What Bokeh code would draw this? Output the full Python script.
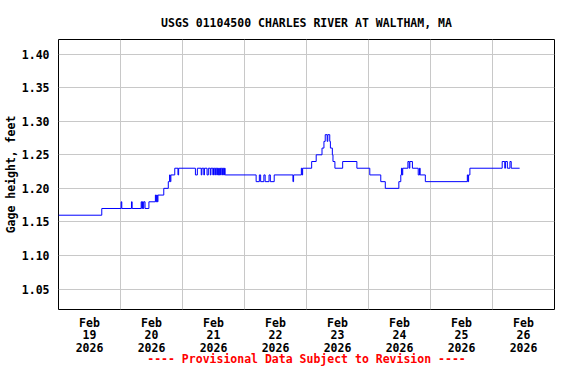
import pandas as pd
from bokeh.plotting import figure
from bokeh.models import FixedTicker, Range1d, PrintfTickFormatter, ColumnDataSource
from bokeh.embed import file_html
from bokeh.resources import INLINE

# ---- data (15-minute gage height, change points) ----
times = [
    "2026-02-19 00:00", "2026-02-19 16:45", "2026-02-20 00:15", "2026-02-20 00:30",
    "2026-02-20 04:15", "2026-02-20 04:30", "2026-02-20 08:00", "2026-02-20 08:15",
    "2026-02-20 08:30", "2026-02-20 08:45", "2026-02-20 09:00", "2026-02-20 09:30",
    "2026-02-20 11:00", "2026-02-20 13:30", "2026-02-20 13:45", "2026-02-20 14:00",
    "2026-02-20 14:15", "2026-02-20 14:30", "2026-02-20 16:45", "2026-02-20 18:30",
    "2026-02-20 19:00", "2026-02-20 19:15", "2026-02-20 19:30", "2026-02-20 21:00",
    "2026-02-20 22:15", "2026-02-20 22:30", "2026-02-21 05:00", "2026-02-21 05:45",
    "2026-02-21 07:15", "2026-02-21 07:30", "2026-02-21 08:15", "2026-02-21 08:30",
    "2026-02-21 09:30", "2026-02-21 10:00", "2026-02-21 10:45", "2026-02-21 11:00",
    "2026-02-21 11:45", "2026-02-21 12:00", "2026-02-21 12:30", "2026-02-21 12:45",
    "2026-02-21 13:15", "2026-02-21 13:30", "2026-02-21 13:45", "2026-02-21 14:00",
    "2026-02-21 14:15", "2026-02-21 14:30", "2026-02-21 14:45", "2026-02-21 15:00",
    "2026-02-21 15:30", "2026-02-21 15:45", "2026-02-21 16:00", "2026-02-21 16:15",
    "2026-02-21 16:30", "2026-02-22 04:30", "2026-02-22 05:45", "2026-02-22 06:15",
    "2026-02-22 07:30", "2026-02-22 08:00", "2026-02-22 09:30", "2026-02-22 10:00",
    "2026-02-22 11:30", "2026-02-22 18:45", "2026-02-22 19:00", "2026-02-22 22:00",
    "2026-02-22 22:15", "2026-02-22 22:30", "2026-02-23 02:00", "2026-02-23 03:45",
    "2026-02-23 06:00", "2026-02-23 06:45", "2026-02-23 07:15", "2026-02-23 08:00",
    "2026-02-23 08:15", "2026-02-23 09:00", "2026-02-23 09:15", "2026-02-23 10:00",
    "2026-02-23 10:15", "2026-02-23 11:00", "2026-02-23 14:00", "2026-02-23 19:30",
    "2026-02-24 00:30", "2026-02-24 04:45", "2026-02-24 06:30", "2026-02-24 11:45",
    "2026-02-24 12:30", "2026-02-24 12:45", "2026-02-24 13:00", "2026-02-24 13:15",
    "2026-02-24 15:15", "2026-02-24 15:45", "2026-02-24 16:00", "2026-02-24 17:00",
    "2026-02-24 19:15", "2026-02-24 19:45", "2026-02-24 20:00", "2026-02-24 22:00",
    "2026-02-25 14:15", "2026-02-25 14:30", "2026-02-25 14:45", "2026-02-25 15:15",
    "2026-02-26 03:45", "2026-02-26 04:45", "2026-02-26 05:00", "2026-02-26 05:45",
    "2026-02-26 06:45", "2026-02-26 07:15", "2026-02-26 10:30",
]
gage_ft = [
    1.16, 1.17, 1.18, 1.17,
    1.18, 1.17, 1.18, 1.17,
    1.18, 1.17, 1.18, 1.17,
    1.18, 1.19, 1.18, 1.19,
    1.18, 1.19, 1.20, 1.21,
    1.22, 1.21, 1.22, 1.23,
    1.22, 1.23, 1.22, 1.23,
    1.22, 1.23, 1.22, 1.23,
    1.22, 1.23, 1.22, 1.23,
    1.22, 1.23, 1.22, 1.23,
    1.22, 1.23, 1.22, 1.23,
    1.22, 1.23, 1.22, 1.23,
    1.22, 1.23, 1.22, 1.23,
    1.22, 1.21, 1.22, 1.21,
    1.22, 1.21, 1.22, 1.21,
    1.22, 1.21, 1.22, 1.23,
    1.22, 1.23, 1.24, 1.25,
    1.26, 1.27, 1.28, 1.27,
    1.28, 1.27, 1.26, 1.25,
    1.24, 1.23, 1.24, 1.23,
    1.22, 1.21, 1.20, 1.21,
    1.22, 1.23, 1.22, 1.23,
    1.24, 1.23, 1.24, 1.23,
    1.22, 1.23, 1.22, 1.21,
    1.22, 1.21, 1.22, 1.23,
    1.24, 1.23, 1.24, 1.23,
    1.24, 1.23, 1.23,
]

label_days = ["2026-02-19", "2026-02-20", "2026-02-21", "2026-02-22",
              "2026-02-23", "2026-02-24", "2026-02-25", "2026-02-26"]
day_labels = ["Feb\n19\n2026", "Feb\n20\n2026", "Feb\n21\n2026", "Feb\n22\n2026",
              "Feb\n23\n2026", "Feb\n24\n2026", "Feb\n25\n2026", "Feb\n26\n2026"]
y_ticks = [1.05, 1.10, 1.15, 1.20, 1.25, 1.30, 1.35, 1.40]

title_text = "USGS 01104500 CHARLES RIVER AT WALTHAM, MA"
y_title = "Gage height, feet"
footer = "---- Provisional Data Subject to Revision ----"

FONT = "DejaVu Sans Mono"
FS = "11.5px"

def ms(ts):
    return int(pd.Timestamp(ts).value // 10**6)

x_start = pd.Timestamp("2026-02-19 00:00")
x_end = pd.Timestamp("2026-02-27 00:00")

src = ColumnDataSource(dict(t=pd.to_datetime(times), h=gage_ft))

p = figure(
    width=560, height=368, x_axis_type="datetime",
    x_range=Range1d(x_start, x_end), y_range=Range1d(1.0195, 1.4218),
    output_backend="svg", toolbar_location=None,
    min_border_left=58, min_border_right=6, min_border_top=39, min_border_bottom=52,
    title=title_text,
)
p.background_fill_color = "white"
p.border_fill_color = "white"
p.outline_line_color = "black"
p.outline_line_width = 1
p.outline_line_alpha = 1.0

p.title.align = "center"
p.title.text_font = FONT
p.title.text_font_size = FS
p.title.text_font_style = "bold"
p.title.text_color = "black"
p.title.standoff = 19

p.step("t", "h", source=src, mode="after", line_color="#0000ff", line_width=1)

noon_ticks = [ms(d) + 12 * 3600 * 1000 for d in label_days]
mid_ticks = [ms(d) for d in label_days[1:]]

xa = p.xaxis[0]
xa.ticker = FixedTicker(ticks=noon_ticks)
xa.major_label_overrides = {t: lab for t, lab in zip(noon_ticks, day_labels)}
xa.major_tick_line_color = None
xa.minor_tick_line_color = None
xa.axis_line_color = None
xa.major_label_text_font = FONT
xa.major_label_text_font_size = FS
xa.major_label_text_font_style = "bold"
xa.major_label_text_color = "black"
xa.major_label_text_line_height = 0.9
xa.major_label_standoff = 0
xa.axis_label = footer
xa.axis_label_text_font = FONT
xa.axis_label_text_font_size = FS
xa.axis_label_text_font_style = "bold"
xa.axis_label_text_color = "#ff0000"
xa.axis_label_text_line_height = 0.8
xa.axis_label_standoff = -6

ya = p.yaxis[0]
ya.ticker = FixedTicker(ticks=y_ticks)
ya.formatter = PrintfTickFormatter(format="%.2f")
ya.major_tick_line_color = None
ya.minor_tick_line_color = None
ya.axis_line_color = None
ya.major_label_text_font = FONT
ya.major_label_text_font_size = FS
ya.major_label_text_font_style = "bold"
ya.major_label_text_color = "black"
ya.major_label_standoff = 3
ya.axis_label = y_title
ya.axis_label_text_font = FONT
ya.axis_label_text_font_size = FS
ya.axis_label_text_font_style = "bold"
ya.axis_label_text_color = "black"
ya.axis_label_standoff = 1

p.xgrid.ticker = FixedTicker(ticks=mid_ticks)
p.ygrid.ticker = FixedTicker(ticks=y_ticks)
for g in (p.xgrid[0], p.ygrid[0]):
    g.grid_line_color = "#c8c8c8"
    g.grid_line_width = 1
    g.grid_line_alpha = 1.0

open("out.html", "w").write(file_html(p, INLINE))
